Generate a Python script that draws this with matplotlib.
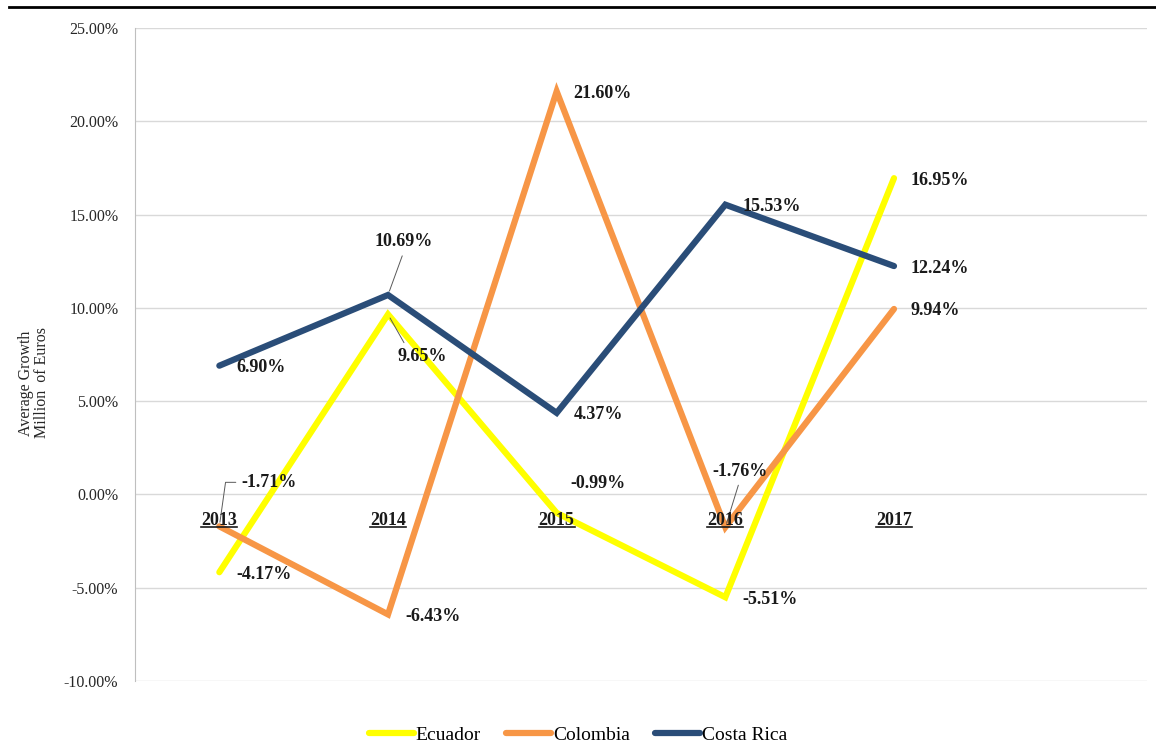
import matplotlib.pyplot as plt
from matplotlib.lines import Line2D

years = ["2013", "2014", "2015", "2016", "2017"]
ecuador = [-4.17, 9.65, -0.99, -5.51, 16.95]
colombia = [-1.71, -6.43, 21.60, -1.76, 9.94]
costa_rica = [6.90, 10.69, 4.37, 15.53, 12.24]

names = ["Ecuador", "Colombia", "Costa Rica"]
colors = ["#FFFF00", "#F79646", "#2A4D78"]

plt.rcParams["font.family"] = ["Liberation Serif", "DejaVu Serif"]

fig = plt.figure(figsize=(11.56, 7.56), dpi=100)
ax = fig.add_axes([0.1168, 0.0992, 0.8754, 0.8638])

x = list(range(len(years)))
for name, vals, col in zip(names, [ecuador, colombia, costa_rica], colors):
    ax.plot(x, vals, color=col, lw=4.5, label=name,
            solid_capstyle="round", solid_joinstyle="miter", zorder=3)

ax.set_xlim(-0.5, 5.5)
ax.set_ylim(-10, 25)
yt = [-10, -5, 0, 5, 10, 15, 20, 25]
ax.set_yticks(yt)
ax.set_yticklabels([f"{v:.2f}%" for v in yt], fontsize=11.5, color="#262626")
ax.set_xticks([])
ax.tick_params(axis="y", length=0, pad=12)
ax.grid(axis="y", color="#D9D9D9", lw=1)
ax.set_axisbelow(True)
for s in ["top", "right", "bottom"]:
    ax.spines[s].set_visible(False)
ax.spines["left"].set_color("#BFBFBF")

# value labels: default sits right of the point, a few are moved with leader lines
lead = dict(arrowstyle="-", color="#595959", lw=0.7, shrinkA=2, shrinkB=3)
special = {
    ("Ecuador", 1): ((9, -42), "left", dict(lead, relpos=(0.2, 1.0))),
    ("Ecuador", 2): ((14, 29), "left", None),
    ("Colombia", 0): ((22, 44), "left",
                      dict(lead, relpos=(0.0, 0.5),
                           connectionstyle="angle,angleA=0,angleB=82,rad=0")),
    ("Colombia", 3): ((-13, 56), "left", dict(lead, relpos=(0.5, 0.0))),
    ("Costa Rica", 1): ((-13, 53), "left", dict(lead, relpos=(0.5, 0.0))),
}
for name, vals in zip(names, [ecuador, colombia, costa_rica]):
    for i, v in enumerate(vals):
        off, ha, arrow = special.get((name, i), ((17, -2), "left", None))
        ax.annotate(f"{v:.2f}%", (i, v), xytext=off, textcoords="offset pixels",
                    ha=ha, va="center", fontsize=13, fontweight="bold",
                    color="#1A1A1A", arrowprops=arrow, zorder=4)

# category labels next to the zero line, underlined
cat_texts = []
for i, yr in enumerate(years):
    t = ax.annotate(yr, (i, 0), xytext=(0, -26), textcoords="offset pixels",
                    ha="center", va="center", fontsize=13, fontweight="bold",
                    color="#1A1A1A", zorder=4)
    cat_texts.append(t)

fig.text(34 / 1156, 1 - 383 / 756, "Average Growth\nMillion  of Euros",
         rotation=90, ha="center", va="center", multialignment="center",
         fontsize=11.5, color="#262626", linespacing=1.0)

fig.legend(loc="center", bbox_to_anchor=(0.5, 0.028), ncol=3, frameon=False,
           fontsize=14, handlelength=2.3, handletextpad=0.1, columnspacing=1.3)

fig.add_artist(Line2D([9 / 1156, 1], [1 - 7 / 756] * 2, transform=fig.transFigure,
                      color="black", lw=2))

fig.canvas.draw()
r = fig.canvas.get_renderer()
inv = fig.transFigure.inverted()
for t in cat_texts:
    bb = t.get_window_extent(r)
    (x0, y0), (x1, _) = inv.transform([(bb.x0, bb.y0 + 1.5), (bb.x1, bb.y0 + 1.5)])
    fig.add_artist(Line2D([x0, x1], [y0, y0], transform=fig.transFigure,
                          color="#1A1A1A", lw=1.2))

fig.savefig("out.png", dpi=100)
